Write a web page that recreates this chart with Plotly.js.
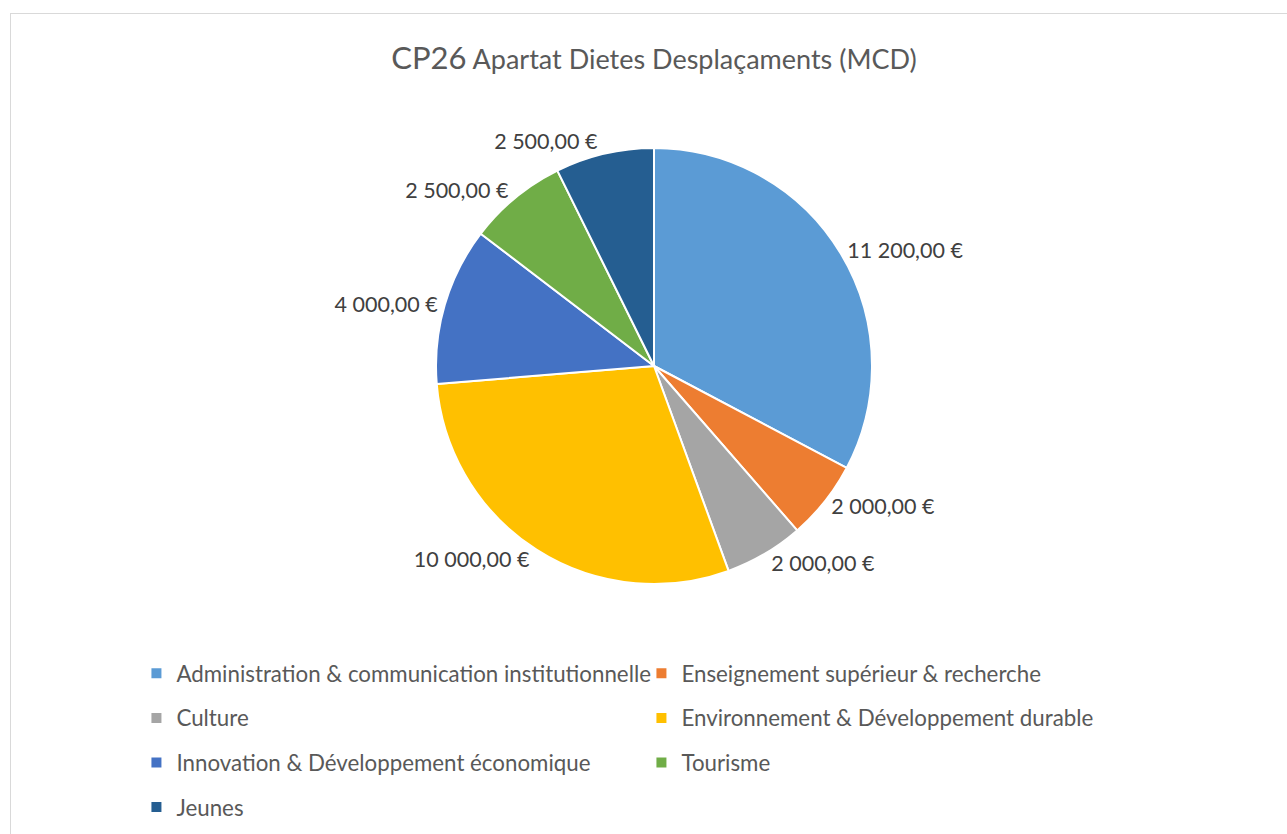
<!DOCTYPE html>
<html>
<head>
<meta charset="utf-8">
<script src="https://cdn.plot.ly/plotly-3.0.1.min.js"></script>
<style>
html,body{margin:0;padding:0;background:#fff;}
#chart{width:1287px;height:834px;}
#frame{position:absolute;left:10px;top:13px;width:1400px;height:1000px;border:1px solid #d9d9d9;pointer-events:none;}
</style>
</head>
<body>
<div id="chart"></div>
<div id="frame"></div>
<script>
var categories = [
  "Administration & communication institutionnelle",
  "Enseignement supérieur & recherche",
  "Culture",
  "Environnement & Développement durable",
  "Innovation & Développement économique",
  "Tourisme",
  "Jeunes"
];
var amounts = [11200, 2000, 2000, 10000, 4000, 2500, 2500];
var sliceColors = ["#5B9BD5", "#ED7D31", "#A5A5A5", "#FFC000", "#4472C4", "#70AD47", "#255E91"];
var titleMain = "CP26";
var titleSub = "Apartat Dietes Desplaçaments (MCD)";

var legendNames = categories.map(function (c) {
  return '<span style="font-size:22.3px;baseline-shift:4px">' + c + '</span>';
});

var trace = {
  type: "pie",
  labels: legendNames,
  values: amounts,
  sort: false,
  direction: "clockwise",
  rotation: 0,
  marker: {colors: sliceColors, line: {color: "#ffffff", width: 2}},
  textposition: "outside",
  texttemplate: "%{value:,.2f} €",
  outsidetextfont: {family: "Lato, 'Open Sans', sans-serif", size: 21.5, color: "#404040"},
  hoverinfo: "label+value",
  automargin: false
};

var layout = {
  width: 1287,
  height: 834,
  separators: ", ",
  margin: {l: 200, r: 179, t: 148, b: 250, autoexpand: false},
  paper_bgcolor: "#ffffff",
  font: {family: "Lato, 'Open Sans', sans-serif", color: "#595959"},
  title: {
    text: '<span style="font-size:31px">' + titleMain + '</span> ' + titleSub,
    font: {family: "Lato, 'Open Sans', sans-serif", size: 27, color: "#595959"},
    x: 0.5, xref: "paper", xanchor: "center",
    y: 1 - 60 / 834, yref: "container", yanchor: "middle"
  },
  showlegend: true,
  legend: {
    orientation: "h",
    x: -0.07, xanchor: "left",
    y: -0.1422, yanchor: "top",
    entrywidth: 460, entrywidthmode: "pixels",
    font: {family: "Lato, 'Open Sans', sans-serif", size: 32, color: "#595959"},
    traceorder: "normal"
  }
};

Plotly.newPlot("chart", [trace], layout, {displayModeBar: false, staticPlot: true});
</script>
</body>
</html>
